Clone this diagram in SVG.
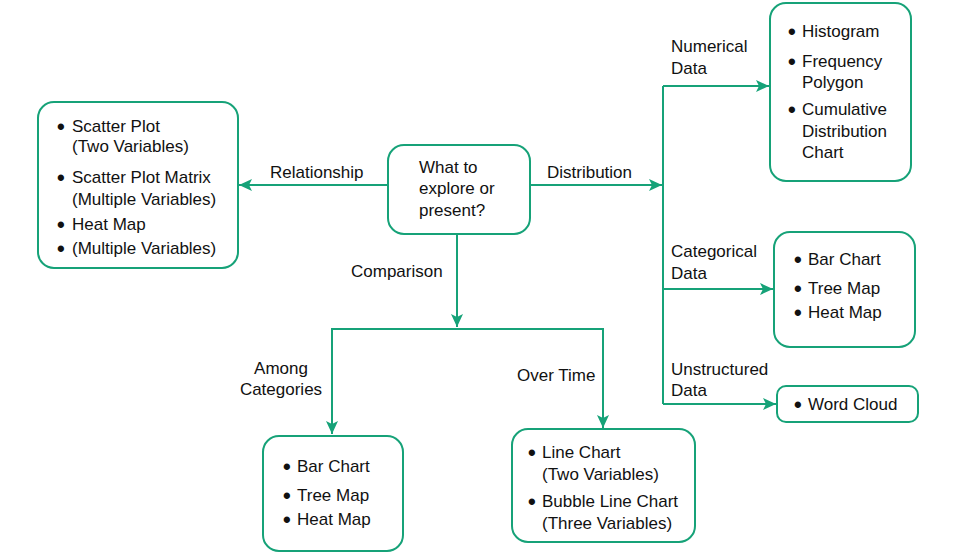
<svg xmlns="http://www.w3.org/2000/svg" width="960" height="559" viewBox="0 0 960 559">
<style>
.box{fill:#fff;stroke:#16a278;stroke-width:2}
.ln{fill:none;stroke:#16a278;stroke-width:2}
text{font-family:"Liberation Sans",Arial,sans-serif;font-size:17px;fill:#111}
.b{font-size:22px;font-weight:bold}
</style>
<defs>
<marker id="ah" markerUnits="userSpaceOnUse" markerWidth="14" markerHeight="14" viewBox="0 0 14 14" refX="13" refY="7" orient="auto">
<path d="M0,1 L13,7 L0,13 L3,7 z" fill="#16a278"/>
</marker>
</defs>
<rect width="960" height="559" fill="#fff"/>
<g id="connectors">
<path class="ln" d="M388,185 H239" marker-end="url(#ah)"/>
<path class="ln" d="M530,185 H662" marker-end="url(#ah)"/>
<path class="ln" d="M663,86 V404"/>
<path class="ln" d="M663,86 H769" marker-end="url(#ah)"/>
<path class="ln" d="M663,289 H773" marker-end="url(#ah)"/>
<path class="ln" d="M663,404 H776" marker-end="url(#ah)"/>
<path class="ln" d="M457,234 V327" marker-end="url(#ah)"/>
<path class="ln" d="M457,329 H332 V434" marker-end="url(#ah)"/>
<path class="ln" d="M457,329 H603 V428" marker-end="url(#ah)"/>
<text x="270" y="178">Relationship</text>
<text x="547" y="178">Distribution</text>
<text x="351" y="277">Comparison</text>
<text x="281" y="374" text-anchor="middle">Among</text>
<text x="281" y="395" text-anchor="middle">Categories</text>
<text x="517" y="381">Over Time</text>
<text x="671" y="52">Numerical</text>
<text x="671" y="74">Data</text>
<text x="671" y="257">Categorical</text>
<text x="671" y="279">Data</text>
<text x="671" y="375">Unstructured</text>
<text x="671" y="396">Data</text>
</g>
<g id="question">
<rect class="box" x="388" y="145" width="142" height="89" rx="16"/>
<text x="419" y="173">What to</text>
<text x="419" y="194">explore or</text>
<text x="419" y="216">present?</text>
</g>
<g id="relationship">
<rect class="box" x="38" y="102" width="200" height="166" rx="16"/>
<text><tspan class="b" x="57" y="133.5">•</tspan><tspan x="72" y="132">Scatter Plot</tspan></text>
<text x="72" y="152">(Two Variables)</text>
<text><tspan class="b" x="57" y="184.5">•</tspan><tspan x="72" y="183">Scatter Plot Matrix</tspan></text>
<text x="72" y="205">(Multiple Variables)</text>
<text><tspan class="b" x="57" y="231.5">•</tspan><tspan x="72" y="230">Heat Map</tspan></text>
<text><tspan class="b" x="57" y="255.5">•</tspan><tspan x="72" y="254">(Multiple Variables)</tspan></text>
</g>
<g id="numerical">
<rect class="box" x="770" y="3" width="141" height="178" rx="16"/>
<text><tspan class="b" x="788" y="38.5">•</tspan><tspan x="802" y="37">Histogram</tspan></text>
<text><tspan class="b" x="788" y="68.5">•</tspan><tspan x="802" y="67">Frequency</tspan></text>
<text x="802" y="88">Polygon</text>
<text><tspan class="b" x="788" y="116.5">•</tspan><tspan x="802" y="115">Cumulative</tspan></text>
<text x="802" y="137">Distribution</text>
<text x="802" y="158">Chart</text>
</g>
<g id="categorical">
<rect class="box" x="774" y="232" width="141" height="115" rx="16"/>
<text><tspan class="b" x="794" y="266.5">•</tspan><tspan x="808" y="265">Bar Chart</tspan></text>
<text><tspan class="b" x="794" y="295.5">•</tspan><tspan x="808" y="294">Tree Map</tspan></text>
<text><tspan class="b" x="794" y="319.5">•</tspan><tspan x="808" y="318">Heat Map</tspan></text>
</g>
<g id="unstructured">
<rect class="box" x="777" y="386" width="141" height="36" rx="9"/>
<text><tspan class="b" x="794" y="411.5">•</tspan><tspan x="808" y="410">Word Cloud</tspan></text>
</g>
<g id="among">
<rect class="box" x="263" y="436" width="140" height="115" rx="16"/>
<text><tspan class="b" x="283" y="473.5">•</tspan><tspan x="297" y="472">Bar Chart</tspan></text>
<text><tspan class="b" x="283" y="502.5">•</tspan><tspan x="297" y="501">Tree Map</tspan></text>
<text><tspan class="b" x="283" y="526.5">•</tspan><tspan x="297" y="525">Heat Map</tspan></text>
</g>
<g id="overtime">
<rect class="box" x="512" y="429" width="183" height="113" rx="16"/>
<text><tspan class="b" x="528" y="459.5">•</tspan><tspan x="542" y="458">Line Chart</tspan></text>
<text x="542" y="480">(Two Variables)</text>
<text><tspan class="b" x="528" y="508.5">•</tspan><tspan x="542" y="507">Bubble Line Chart</tspan></text>
<text x="542" y="529">(Three Variables)</text>
</g>
</svg>
